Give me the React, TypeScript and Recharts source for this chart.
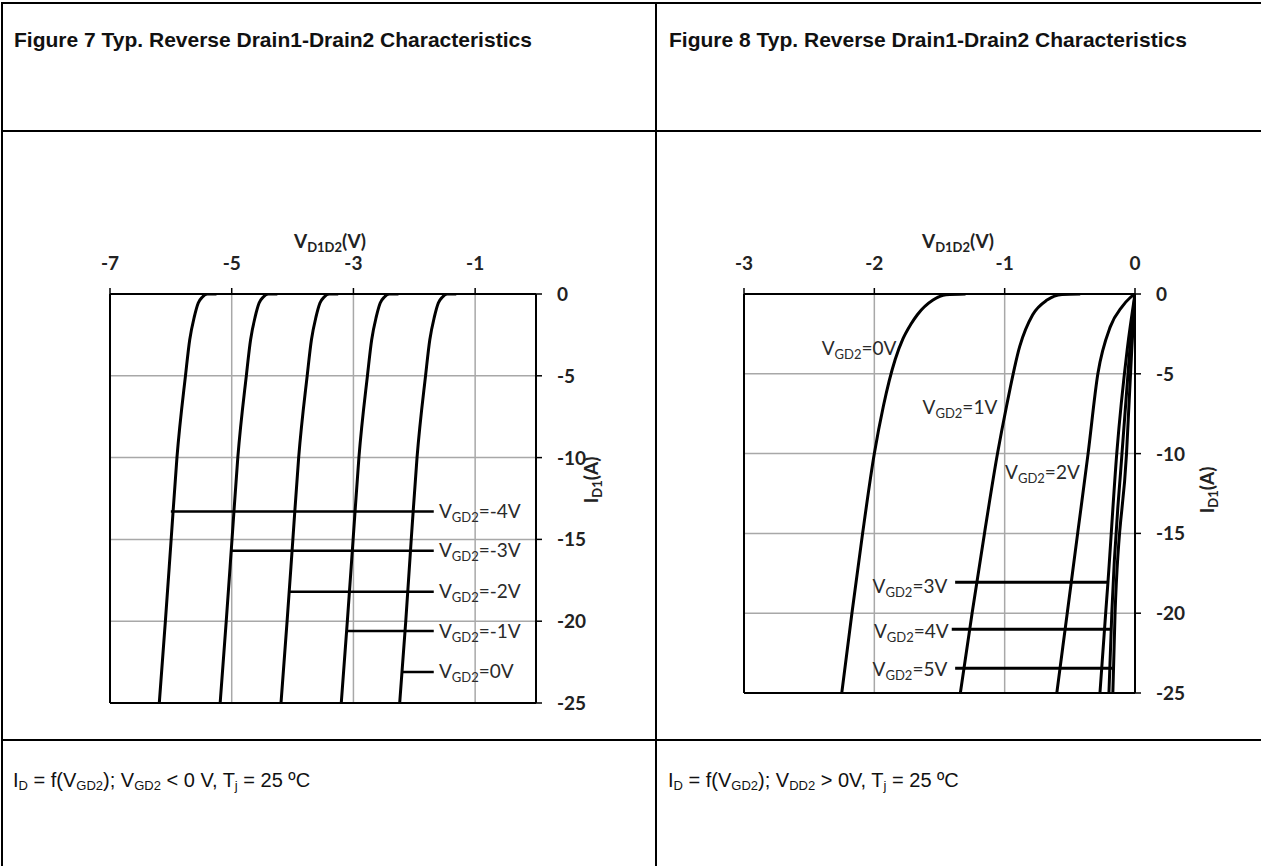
import React from 'react';
import { LineChart, Line, XAxis, YAxis, CartesianGrid, ReferenceLine, ReferenceDot } from 'recharts';

type P = { x: number; y: number };
const toPts = (a: number[][]): P[] => a.map(([x, y]) => ({ x, y }));

// ---------- Figure 7 data ----------
const fig7XTicks = [-7, -5, -3, -1];
const fig7YTicks = [0, -5, -10, -15, -20, -25];
const fig7CurveM4 = toPts([[-6.19,-25],[-6.09,-20],[-5.995,-15],[-5.90,-10],[-5.76,-5],[-5.69,-2.8],[-5.615,-1.4],[-5.55,-0.55],[-5.48,-0.18],[-5.40,0],[-5.25,0]]);
const fig7CurveM3 = toPts([[-5.19,-25],[-5.09,-20],[-4.995,-15],[-4.90,-10],[-4.76,-5],[-4.69,-2.8],[-4.615,-1.4],[-4.55,-0.55],[-4.48,-0.18],[-4.40,0],[-4.25,0]]);
const fig7CurveM2 = toPts([[-4.19,-25],[-4.09,-20],[-3.995,-15],[-3.90,-10],[-3.76,-5],[-3.69,-2.8],[-3.615,-1.4],[-3.55,-0.55],[-3.48,-0.18],[-3.40,0],[-3.25,0]]);
const fig7CurveM1 = toPts([[-3.20,-25],[-3.10,-20],[-3.005,-15],[-2.91,-10],[-2.77,-5],[-2.70,-2.8],[-2.625,-1.4],[-2.56,-0.55],[-2.49,-0.18],[-2.41,0],[-2.26,0]]);
const fig7Curve0 = toPts([[-2.24,-25],[-2.14,-20],[-2.05,-15],[-1.955,-10],[-1.815,-5],[-1.745,-2.8],[-1.67,-1.4],[-1.605,-0.55],[-1.535,-0.18],[-1.46,0],[-1.31,0]]);
const fig7Curves = [fig7CurveM4, fig7CurveM3, fig7CurveM2, fig7CurveM1, fig7Curve0];
const fig7Labels = ['=-4V', '=-3V', '=-2V', '=-1V', '=0V'];
const fig7MarkerY = [-13.3, -15.7, -18.2, -20.6, -23.1];
const fig7MarkerStart = [-6.0, -5.02, -4.06, -3.10, -2.21];
const fig7MarkerEnd = [-1.68, -1.68, -1.68, -1.68, -1.68];
const fig7LabelX = [-1.595, -1.595, -1.595, -1.595, -1.595];

// ---------- Figure 8 data ----------
const fig8XTicks = [-3, -2, -1, 0];
const fig8YTicks = [0, -5, -10, -15, -20, -25];
const fig8Curve0 = toPts([[-2.25,-25],[-2.172,-20],[-2.09,-15],[-2.0,-10],[-1.93,-7],[-1.84,-4.1],[-1.78,-2.8],[-1.72,-1.9],[-1.67,-1.3],[-1.55,-0.38],[-1.45,-0.05],[-1.30,0]]);
const fig8Curve1 = toPts([[-1.34,-25],[-1.25,-20],[-1.155,-15],[-1.055,-10],[-0.985,-7],[-0.885,-3.3],[-0.785,-1.3],[-0.675,-0.38],[-0.56,-0.03],[-0.42,0]]);
const fig8Curve2 = toPts([[-0.60,-25],[-0.52,-20],[-0.44,-15],[-0.36,-10],[-0.285,-5],[-0.19,-2.06],[-0.10,-0.8],[-0.04,-0.25],[0,0]]);
const fig8Curve3 = toPts([[-0.269,-25],[-0.225,-20],[-0.207,-18],[-0.14,-10],[-0.06,-3.5],[0,0]]);
const fig8Curve4 = toPts([[-0.200,-25],[-0.178,-20],[-0.10,-10],[-0.04,-3.5],[0,0]]);
const fig8Curve5 = toPts([[-0.170,-25],[-0.153,-20],[-0.065,-10],[-0.025,-3.5],[0,0]]);
const fig8Curves = [fig8Curve0, fig8Curve1, fig8Curve2, fig8Curve3, fig8Curve4, fig8Curve5];
const fig8MarkerY = [-18.06, -21.0, -23.45];
const fig8MarkerStart = [-1.38, -1.406, -1.38];
const fig8MarkerEnd = [-0.207, -0.182, -0.175];
const fig8LabelsA = ['=0V', '=1V', '=2V'];
const fig8LabelAX = [-2.404, -1.63, -0.997];
const fig8LabelAY = [-3.44, -7.09, -11.16];
const fig8LabelsB = ['=3V', '=4V', '=5V'];
const fig8LabelBX = [-1.44, -1.43, -1.44];
const fig8LabelBY = [-18.3, -21.15, -23.55];

const LATO = "Lato, 'Open Sans', sans-serif";
const ARIAL = "'Liberation Sans', Arial, sans-serif";

const XTick = (props: any) => (
  <text x={props.x} y={props.y - 16} textAnchor="middle" fontFamily={LATO} fontWeight={700} fontSize={19} fill="#222">
    {props.payload.value}
  </text>
);
const YTick = (props: any) => (
  <text x={props.x + 13} y={props.y + 7} textAnchor="start" fontFamily={LATO} fontWeight={700} fontSize={19} fill="#222">
    {props.payload.value}
  </text>
);

const VgdLabel = ({ cx, cy, text, anchor }: { cx: number; cy: number; text: string; anchor: 'start' | 'end' }) => (
  <text x={cx} y={cy + 6.5} textAnchor={anchor} fontFamily={LATO} fontSize={19} fill="#2a2a2a">
    <tspan>V</tspan>
    <tspan fontSize={13} dy={4}>GD2</tspan>
    <tspan dy={-4}>{text}</tspan>
  </text>
);

const lineBase = { type: 'monotone' as const, dataKey: 'y', dot: false, activeDot: false, stroke: '#000', strokeWidth: 3, isAnimationActive: false };

const Fig7 = () => (
  <LineChart width={655} height={540} margin={{ top: 54, right: 49, left: 110, bottom: 37 }}>
    <CartesianGrid stroke="#a8a8a8" strokeWidth={1.5} />
    <XAxis xAxisId={0} dataKey="x" type="number" orientation="top" domain={[-7, 0]} allowDataOverflow ticks={fig7XTicks} interval={0} height={40}
      axisLine={{ stroke: '#000', strokeWidth: 2 }} tickLine={{ stroke: '#000', strokeWidth: 1.5 }} tickSize={6} tick={<XTick />} />
    <YAxis yAxisId={0} type="number" orientation="right" domain={[-25, 0]} allowDataOverflow ticks={fig7YTicks} interval={0} width={70}
      axisLine={{ stroke: '#000', strokeWidth: 2 }} tickLine={{ stroke: '#000', strokeWidth: 1.5 }} tickSize={6} tick={<YTick />} />
    <ReferenceLine x={-7} stroke="#000" strokeWidth={2} />
    <ReferenceLine y={-25} stroke="#000" strokeWidth={2} />
    {fig7Curves.map((c, i) => (
      <Line key={'c' + i} {...lineBase} data={c} />
    ))}
    {fig7MarkerY.map((y, i) => (
      <Line key={'m' + i} {...lineBase} type="linear" strokeWidth={2.5} data={[{ x: fig7MarkerStart[i], y }, { x: fig7MarkerEnd[i], y }]} />
    ))}
    {fig7Labels.map((t, i) => (
      <ReferenceDot key={'l' + i} x={fig7LabelX[i]} y={fig7MarkerY[i]} r={0}
        shape={(p: any) => <VgdLabel cx={p.cx} cy={p.cy} text={t} anchor="start" />} />
    ))}
  </LineChart>
);

const Fig8 = () => (
  <LineChart width={606} height={540} margin={{ top: 54, right: 56, left: 89, bottom: 47 }}>
    <CartesianGrid stroke="#a8a8a8" strokeWidth={1.5} />
    <XAxis xAxisId={0} dataKey="x" type="number" orientation="top" domain={[-3, 0]} allowDataOverflow ticks={fig8XTicks} interval={0} height={40}
      axisLine={{ stroke: '#000', strokeWidth: 2 }} tickLine={{ stroke: '#000', strokeWidth: 1.5 }} tickSize={6} tick={<XTick />} />
    <YAxis yAxisId={0} type="number" orientation="right" domain={[-25, 0]} allowDataOverflow ticks={fig8YTicks} interval={0} width={70}
      axisLine={{ stroke: '#000', strokeWidth: 2 }} tickLine={{ stroke: '#000', strokeWidth: 1.5 }} tickSize={6} tick={<YTick />} />
    <ReferenceLine x={-3} stroke="#000" strokeWidth={2} />
    <ReferenceLine y={-25} stroke="#000" strokeWidth={2} />
    {fig8Curves.map((c, i) => (
      <Line key={'c' + i} {...lineBase} data={c} />
    ))}
    {fig8MarkerY.map((y, i) => (
      <Line key={'m' + i} {...lineBase} type="linear" strokeWidth={3} data={[{ x: fig8MarkerStart[i], y }, { x: fig8MarkerEnd[i], y }]} />
    ))}
    {fig8LabelsA.map((t, i) => (
      <ReferenceDot key={'a' + i} x={fig8LabelAX[i]} y={fig8LabelAY[i]} r={0}
        shape={(p: any) => <VgdLabel cx={p.cx} cy={p.cy} text={t} anchor="start" />} />
    ))}
    {fig8LabelsB.map((t, i) => (
      <ReferenceDot key={'b' + i} x={fig8LabelBX[i]} y={fig8LabelBY[i]} r={0}
        shape={(p: any) => <VgdLabel cx={p.cx} cy={p.cy} text={t} anchor="end" />} />
    ))}
  </LineChart>
);

const Sub = ({ children, size = 13, d = 3 }: any) => (
  <tspan fontSize={size} dy={d}>{children}</tspan>
);

export default function App() {
  return (
    <div style={{ position: 'absolute', left: 0, top: 0, width: 1261, height: 866, background: '#fff', overflow: 'hidden' }}>
      <svg width={1261} height={866} style={{ position: 'absolute', left: 0, top: 0 }}>
        <rect x={0} y={0} width={1261} height={866} fill="#fff" />
        <rect x={1} y={2} width={1260} height={2} fill="#000" />
        <rect x={1} y={2} width={2} height={864} fill="#000" />
        <rect x={655} y={2} width={2} height={864} fill="#000" />
        <rect x={1} y={130} width={1260} height={2} fill="#000" />
        <rect x={1} y={739} width={1260} height={2} fill="#000" />
        <text x={14} y={47} fontFamily={ARIAL} fontWeight="bold" fontSize={21} fill="#111">Figure 7 Typ. Reverse Drain1-Drain2 Characteristics</text>
        <text x={669} y={47} fontFamily={ARIAL} fontWeight="bold" fontSize={21} fill="#111">Figure 8 Typ. Reverse Drain1-Drain2 Characteristics</text>
        <text x={13} y={787} fontFamily={ARIAL} fontSize={20} fill="#111">
          <tspan>I</tspan><Sub>D</Sub><tspan dy={-3}>{' = f(V'}</tspan><Sub>GD2</Sub><tspan dy={-3}>{'); V'}</tspan><Sub>GD2</Sub><tspan dy={-3}>{' < 0 V, T'}</tspan><Sub>j</Sub><tspan dy={-3}>{' = 25 ºC'}</tspan>
        </text>
        <text x={668} y={787} fontFamily={ARIAL} fontSize={20} fill="#111">
          <tspan>I</tspan><Sub>D</Sub><tspan dy={-3}>{' = f(V'}</tspan><Sub>GD2</Sub><tspan dy={-3}>{'); V'}</tspan><Sub>DD2</Sub><tspan dy={-3}>{' > 0V, T'}</tspan><Sub>j</Sub><tspan dy={-3}>{' = 25 ºC'}</tspan>
        </text>
        <text x={330} y={248} textAnchor="middle" fontFamily={LATO} fontWeight={700} fontSize={19} fill="#222">
          <tspan>V</tspan><Sub size={13} d={4}>D1D2</Sub><tspan dy={-4}>(V)</tspan>
        </text>
        <text x={958} y={248} textAnchor="middle" fontFamily={LATO} fontWeight={700} fontSize={19} fill="#222">
          <tspan>V</tspan><Sub size={13} d={4}>D1D2</Sub><tspan dy={-4}>(V)</tspan>
        </text>
        <text x={598} y={480} transform="rotate(-90 598 480)" textAnchor="middle" fontFamily={LATO} fontWeight={700} fontSize={19} fill="#222">
          <tspan>I</tspan><Sub size={13} d={4}>D1</Sub><tspan dy={-4}>(A)</tspan>
        </text>
        <text x={1214} y={490} transform="rotate(-90 1214 490)" textAnchor="middle" fontFamily={LATO} fontWeight={700} fontSize={19} fill="#222">
          <tspan>I</tspan><Sub size={13} d={4}>D1</Sub><tspan dy={-4}>(A)</tspan>
        </text>
      </svg>
      <div style={{ position: 'absolute', left: 0, top: 200 }}>
        <Fig7 />
      </div>
      <div style={{ position: 'absolute', left: 655, top: 200 }}>
        <Fig8 />
      </div>
    </div>
  );
}
